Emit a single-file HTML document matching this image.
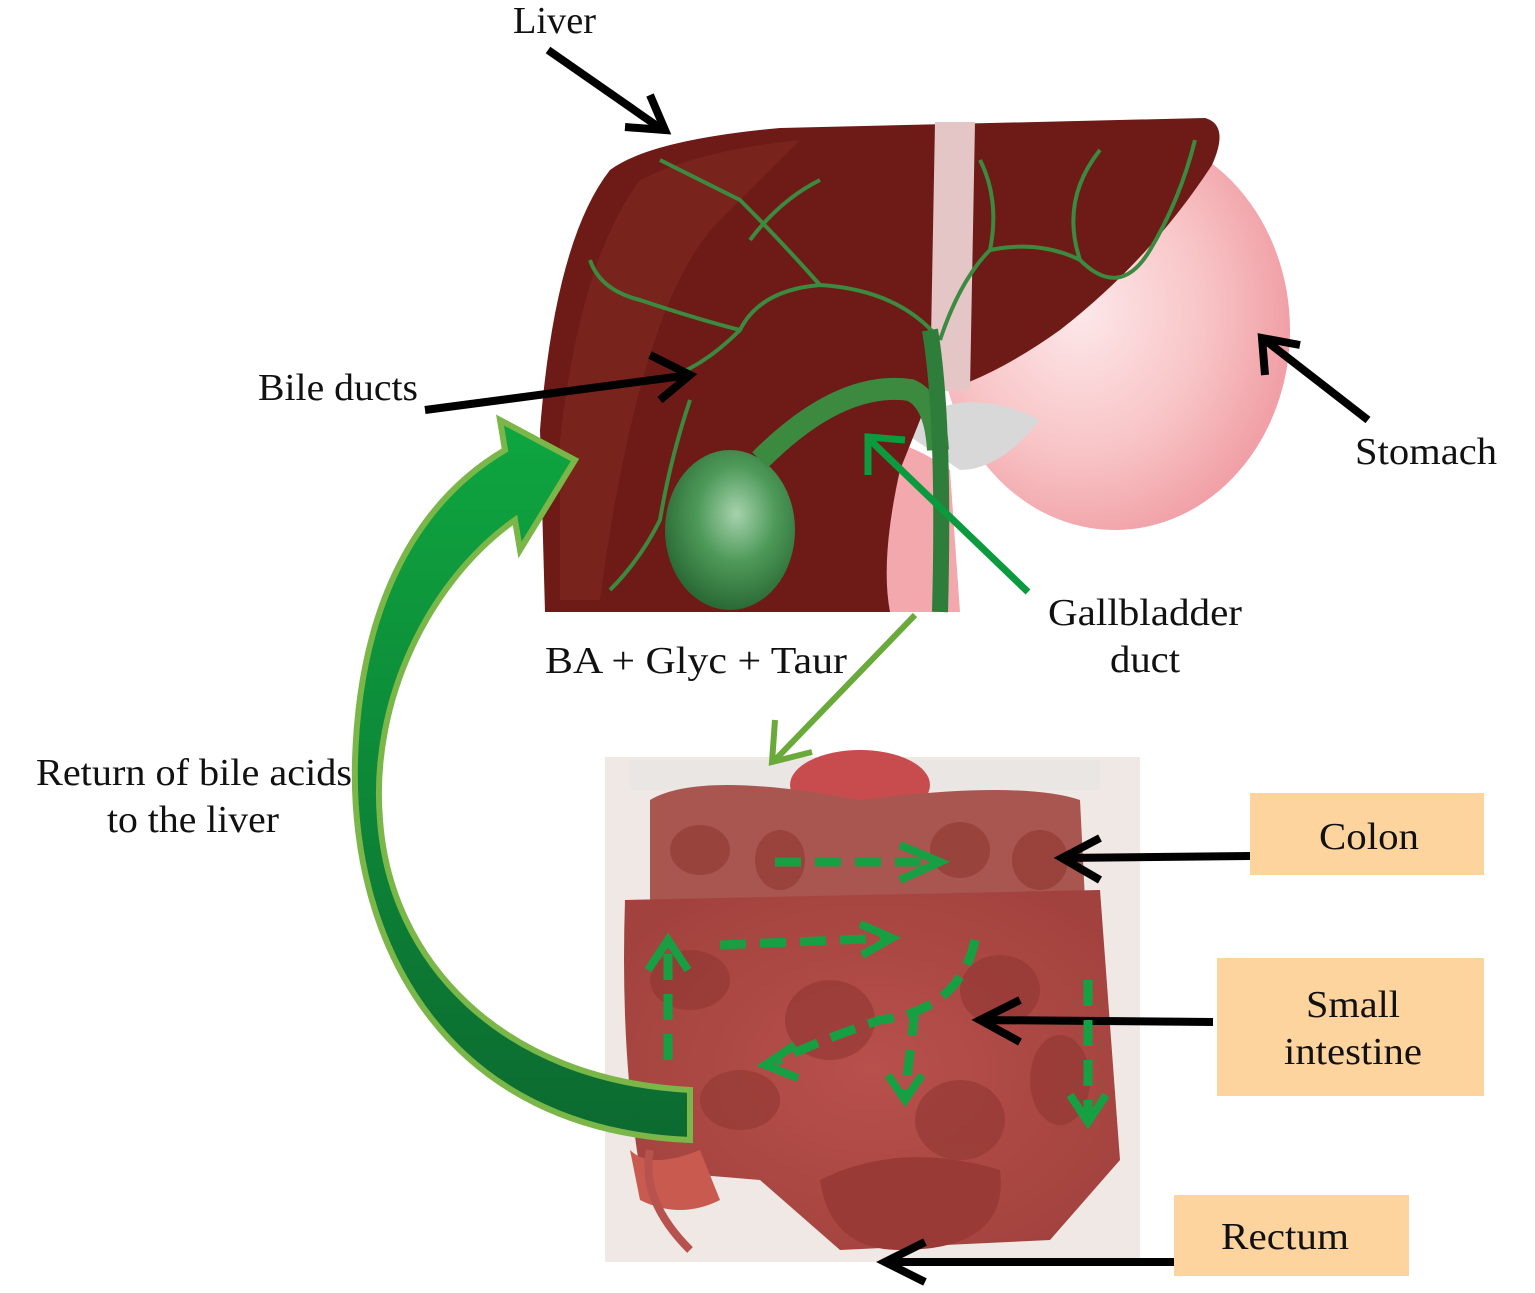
<!DOCTYPE html>
<html><head><meta charset="utf-8"><style>
html,body{margin:0;padding:0;background:#fff}
svg{display:block}
text{font-family:"Liberation Serif",serif;font-size:38px;fill:#111}
</style></head><body>
<svg width="1535" height="1293" viewBox="0 0 1535 1293" xmlns="http://www.w3.org/2000/svg">
<defs>
<radialGradient id="st" cx="0.4" cy="0.45" r="0.6"><stop offset="0" stop-color="#fde8ea"/><stop offset="0.6" stop-color="#f8c4c6"/><stop offset="1" stop-color="#f0a0a6"/></radialGradient>
<radialGradient id="gb" cx="0.55" cy="0.4" r="0.6"><stop offset="0" stop-color="#a7d2ad"/><stop offset="0.5" stop-color="#4e9a5a"/><stop offset="1" stop-color="#2a6a34"/></radialGradient>
<linearGradient id="ba" x1="0" y1="0" x2="0" y2="1"><stop offset="0" stop-color="#0ea640"/><stop offset="1" stop-color="#0c6a30"/></linearGradient>
<radialGradient id="in" cx="0.5" cy="0.5" r="0.6"><stop offset="0" stop-color="#b8504c"/><stop offset="1" stop-color="#a2423e"/></radialGradient>
</defs>
<!-- stomach -->
<ellipse cx="1115" cy="330" rx="175" ry="200" fill="url(#st)"/>
<path d="M800,440 Q880,420 950,470 L960,612 L880,612 Q860,520 820,530 Q800,560 805,612 L770,612 Q760,500 800,440Z" fill="#f2a8ac"/>
<path d="M900,430 Q960,380 1040,420 Q1000,470 960,470 Z" fill="#d8d8d8"/>
<!-- liver -->
<path d="M545,612 L540,430 Q555,240 610,170 Q650,140 780,128 L1205,118 Q1230,125 1212,165 Q1150,260 1060,330 Q990,380 930,395 L900,470 Q880,560 890,612 Z" fill="#6e1a16"/>
<path d="M560,440 Q580,260 640,180 Q700,150 800,140 L720,220 Q640,300 600,600 L560,600Z" fill="#7e2a22" opacity="0.6"/>
<path d="M935,122 L975,122 L970,390 L930,392 Z" fill="#e4c6c6"/>
<!-- bile ducts -->
<g stroke="#3c8a40" fill="none" stroke-width="4">
<path d="M940,340 Q900,290 820,285 Q760,290 740,330 Q700,370 660,380"/>
<path d="M820,285 Q780,240 740,200 Q700,180 660,160"/>
<path d="M740,330 Q700,320 640,300 Q600,290 590,260"/>
<path d="M940,340 Q960,280 990,250 Q1040,240 1080,260 Q1120,300 1150,250 Q1180,200 1195,140"/>
<path d="M990,250 Q1000,200 980,160"/>
<path d="M690,400 Q670,460 660,520 Q640,560 610,590"/>
<path d="M750,240 Q780,200 820,180"/>
<path d="M1080,260 Q1060,200 1100,150"/>
</g>
<!-- gallbladder -->
<ellipse cx="730" cy="530" rx="65" ry="80" fill="url(#gb)"/>
<path d="M760,460 Q840,380 910,390 Q935,400 938,450" stroke="#3c8a40" stroke-width="22" fill="none"/>
<path d="M930,330 Q945,420 940,612" stroke="#2f7d3a" stroke-width="16" fill="none"/>
<!-- intestines -->
<rect x="605" y="757" width="535" height="505" fill="#efe8e5"/>
<rect x="630" y="760" width="470" height="30" fill="#e9e6e4"/>
<ellipse cx="860" cy="785" rx="70" ry="35" fill="#c84c4e"/>
<path d="M650,800 Q700,770 860,800 Q1020,780 1080,800 L1085,900 L650,900 Z" fill="#a8564f"/>
<path d="M625,900 L1100,890 L1120,1160 L1050,1240 L840,1250 L760,1180 L640,1170 Q620,1050 625,900Z" fill="url(#in)"/>
<g fill="#8e3430" opacity="0.55">
<ellipse cx="700" cy="850" rx="30" ry="25"/><ellipse cx="780" cy="860" rx="25" ry="30"/><ellipse cx="960" cy="850" rx="30" ry="28"/><ellipse cx="1040" cy="860" rx="28" ry="30"/>
<ellipse cx="690" cy="980" rx="40" ry="30"/><ellipse cx="830" cy="1020" rx="45" ry="40"/><ellipse cx="1000" cy="990" rx="40" ry="35"/><ellipse cx="740" cy="1100" rx="40" ry="30"/><ellipse cx="960" cy="1120" rx="45" ry="40"/><ellipse cx="1060" cy="1080" rx="30" ry="45"/>
</g>
<path d="M820,1180 Q900,1140 1000,1170 Q1010,1250 900,1250 Q830,1250 820,1180Z" fill="#9a3a36"/>
<path d="M630,1150 Q650,1170 700,1150 L720,1200 Q680,1220 640,1200Z" fill="#c85a50"/>
<path d="M650,1150 Q640,1200 690,1250" stroke="#b8524e" stroke-width="8" fill="none"/>
<!-- big return arrow -->
<path d="M690,1140 C450,1130 350,950 355,760 C360,600 420,500 505,450 L500,420 L575,460 L520,550 L515,520 C430,580 370,700 380,820 C390,960 500,1080 690,1090 Z" fill="url(#ba)" stroke="#7ab648" stroke-width="6"/>
<!-- black arrows -->
<g stroke="#000" stroke-width="8" fill="none" stroke-linecap="butt">
<path d="M548,50 L660,128"/><path d="M625,127 L665,130 L650,95"/>
<path d="M425,410 L690,375"/><path d="M650,355 L690,375 L660,400"/>
<path d="M1368,420 L1265,340"/><path d="M1265,375 L1262,338 L1300,345"/>
<path d="M1250,856 L1062,858"/><path d="M1100,838 L1062,858 L1100,880"/>
<path d="M1213,1022 L980,1020"/><path d="M1020,1000 L980,1020 L1020,1042"/>
<path d="M1175,1262 L885,1262"/><path d="M925,1242 L885,1262 L925,1282"/>
</g>
<!-- green solid arrows -->
<g stroke="#0c9a3e" stroke-width="7" fill="none">
<path d="M1028,592 L870,440"/><path d="M868,475 L868,437 L905,440"/>
</g>
<g stroke="#6aaa3a" stroke-width="6" fill="none">
<path d="M915,615 L775,760"/><path d="M775,720 L772,762 L812,752"/>
</g>
<!-- dashed arrows -->
<g stroke="#16a043" stroke-width="9" fill="none" stroke-dasharray="26,14">
<path d="M775,862 L935,862"/>
<path d="M720,945 L890,938"/>
<path d="M668,1060 L668,945"/>
<path d="M975,940 Q960,1010 880,1020 Q820,1040 775,1062"/>
<path d="M915,1010 L905,1095"/>
<path d="M1088,980 L1088,1115"/>
</g>
<g stroke="#16a043" stroke-width="8" fill="none">
<path d="M900,845 L940,862 L900,880"/>
<path d="M860,924 L892,938 L862,955"/>
<path d="M648,970 L668,940 L688,970"/>
<path d="M795,1045 L765,1065 L798,1078"/>
<path d="M888,1075 L905,1100 L922,1075"/>
<path d="M1070,1095 L1088,1122 L1106,1095"/>
</g>
<!-- label boxes -->
<rect x="1250" y="793" width="234" height="82" fill="#fdd49e"/>
<rect x="1217" y="958" width="267" height="138" fill="#fdd49e"/>
<rect x="1174" y="1195" width="235" height="81" fill="#fdd49e"/>
<!-- text -->
<text x="513" y="33" textLength="83" lengthAdjust="spacingAndGlyphs">Liver</text>
<text x="258" y="400" textLength="160" lengthAdjust="spacingAndGlyphs">Bile ducts</text>
<text x="1355" y="464" textLength="142" lengthAdjust="spacingAndGlyphs">Stomach</text>
<text x="1048" y="625" textLength="194" lengthAdjust="spacingAndGlyphs">Gallbladder</text>
<text x="1110" y="672" textLength="70" lengthAdjust="spacingAndGlyphs">duct</text>
<text x="545" y="673" textLength="302" lengthAdjust="spacingAndGlyphs">BA + Glyc + Taur</text>
<text x="36" y="785" textLength="316" lengthAdjust="spacingAndGlyphs">Return of bile acids</text>
<text x="107" y="832" textLength="172" lengthAdjust="spacingAndGlyphs">to the liver</text>
<text x="1319" y="849" textLength="100" lengthAdjust="spacingAndGlyphs">Colon</text>
<text x="1306" y="1017" textLength="94" lengthAdjust="spacingAndGlyphs">Small</text>
<text x="1284" y="1064" textLength="138" lengthAdjust="spacingAndGlyphs">intestine</text>
<text x="1221" y="1249" textLength="128" lengthAdjust="spacingAndGlyphs">Rectum</text>
</svg>
</body></html>
